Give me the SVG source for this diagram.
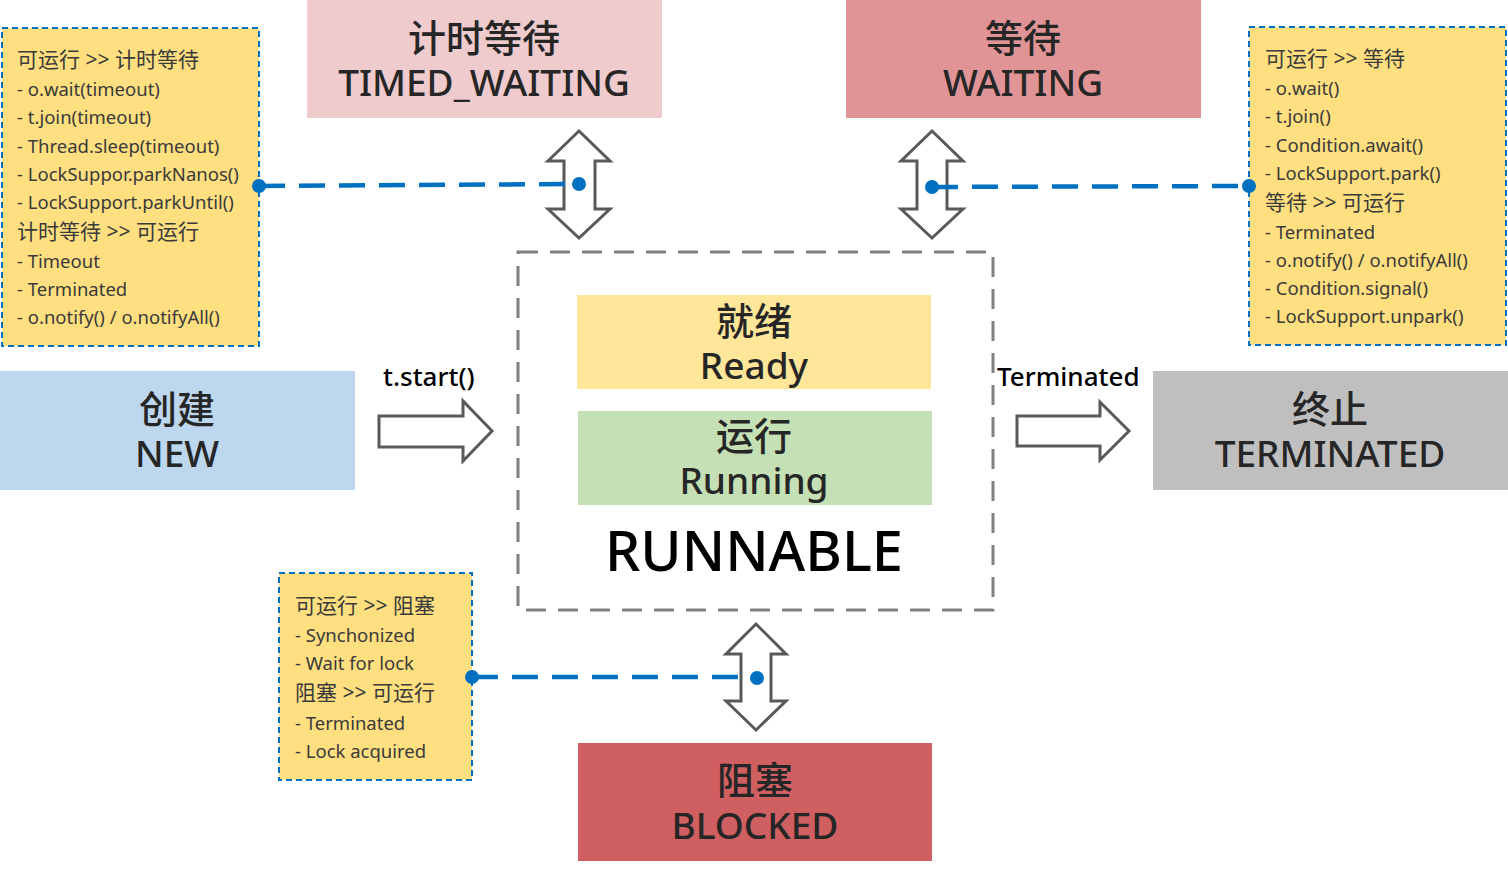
<svg xmlns="http://www.w3.org/2000/svg" width="1508" height="870" viewBox="0 0 1508 870">
<style>
.big{font-family:"Noto Sans","Noto Sans CJK SC",sans-serif;font-size:37px;font-weight:500;fill:#262626;text-anchor:middle}
.bigc{font-size:38px}
.note{font-family:"Noto Sans","Noto Sans CJK SC",sans-serif;font-size:18.5px;fill:#3a3a3a}
.cn{font-size:21px}
.notebox{fill:#ffdf80;stroke:#0070c0;stroke-width:2;stroke-dasharray:6 4}
.arrow{fill:#fff;stroke:#595959;stroke-width:3;stroke-linejoin:miter}
.link{stroke:#0070c0;stroke-width:4.5;stroke-dasharray:26 14;fill:none}
.dot{fill:#0070c0}
.lbl{font-family:"Noto Sans","Noto Sans CJK SC",sans-serif;font-size:26px;font-weight:500;fill:#000}
</style>
<rect width="1508" height="870" fill="#fff"/>
<g id="runnable">
<rect x="518" y="252" width="475" height="358" fill="none" stroke="#808080" stroke-width="3" stroke-dasharray="20 12"/>
<text x="754" y="571" font-family="Noto Sans,sans-serif" font-size="56" font-weight="500" text-anchor="middle" fill="#000">RUNNABLE</text>
</g>
<g id="ready">
<rect x="577" y="295" width="354" height="94" fill="#ffe699"/>
<text class="big bigc" x="754" y="335">就绪</text>
<text class="big" x="754" y="379">Ready</text>
</g>
<g id="running">
<rect x="578" y="411" width="354" height="94" fill="#c5e0b4"/>
<text class="big bigc" x="754" y="450">运行</text>
<text class="big" x="754" y="494">Running</text>
</g>
<g id="timed_waiting">
<rect x="307" y="0" width="355" height="118" fill="#efcbce"/>
<text class="big bigc" x="484" y="52">计时等待</text>
<text class="big" x="484" y="96">TIMED_WAITING</text>
</g>
<g id="waiting">
<rect x="846" y="0" width="355" height="118" fill="#e09496"/>
<text class="big bigc" x="1023" y="52">等待</text>
<text class="big" x="1023" y="96">WAITING</text>
</g>
<g id="new">
<rect x="0" y="371" width="355" height="119" fill="#bdd7ee"/>
<text class="big bigc" x="177" y="423">创建</text>
<text class="big" x="177" y="467">NEW</text>
</g>
<g id="terminated">
<rect x="1153" y="371" width="355" height="119" fill="#bfbfbf"/>
<text class="big bigc" x="1330" y="423">终止</text>
<text class="big" x="1330" y="467">TERMINATED</text>
</g>
<g id="blocked">
<rect x="578" y="743" width="354" height="118" fill="#d05f62"/>
<text class="big bigc" x="755" y="794">阻塞</text>
<text class="big" x="755" y="839">BLOCKED</text>
</g>
<g id="note_timed">
<rect class="notebox" x="2" y="28" width="257" height="318"/>
<text class="note"><tspan class="cn" x="17" y="67">可运行 &gt;&gt; 计时等待</tspan><tspan x="17" y="96">- o.wait(timeout)</tspan><tspan x="17" y="124">- t.join(timeout)</tspan><tspan x="17" y="153">- Thread.sleep(timeout)</tspan><tspan x="17" y="181">- LockSuppor.parkNanos()</tspan><tspan x="17" y="209">- LockSupport.parkUntil()</tspan><tspan class="cn" x="17" y="239">计时等待 &gt;&gt; 可运行</tspan><tspan x="17" y="268">- Timeout</tspan><tspan x="17" y="296">- Terminated</tspan><tspan x="17" y="324">- o.notify() / o.notifyAll()</tspan></text>
</g>
<g id="note_waiting">
<rect class="notebox" x="1249" y="27" width="257" height="318"/>
<text class="note"><tspan class="cn" x="1265" y="66">可运行 &gt;&gt; 等待</tspan><tspan x="1265" y="95">- o.wait()</tspan><tspan x="1265" y="123">- t.join()</tspan><tspan x="1265" y="152">- Condition.await()</tspan><tspan x="1265" y="180">- LockSupport.park()</tspan><tspan class="cn" x="1265" y="210">等待 &gt;&gt; 可运行</tspan><tspan x="1265" y="239">- Terminated</tspan><tspan x="1265" y="267">- o.notify() / o.notifyAll()</tspan><tspan x="1265" y="295">- Condition.signal()</tspan><tspan x="1265" y="323">- LockSupport.unpark()</tspan></text>
</g>
<g id="note_blocked">
<rect class="notebox" x="279" y="573" width="193" height="207"/>
<text class="note"><tspan class="cn" x="295" y="613">可运行 &gt;&gt; 阻塞</tspan><tspan x="295" y="642">- Synchonized</tspan><tspan x="295" y="670">- Wait for lock</tspan><tspan class="cn" x="295" y="700">阻塞 &gt;&gt; 可运行</tspan><tspan x="295" y="730">- Terminated</tspan><tspan x="295" y="758">- Lock acquired</tspan></text>
</g>
<g id="connectors">
<path class="arrow" d="M579,131 L610,161 L595,161 L595,209 L610,209 L579,238 L548,209 L564,209 L564,161 L548,161 Z"/>
<path class="arrow" d="M932,131 L963,161 L947,161 L947,209 L963,209 L932,238 L901,209 L917,209 L917,161 L901,161 Z"/>
<path class="arrow" d="M756,624 L786,654 L771,654 L771,701 L786,701 L756,730 L726,701 L741,701 L741,654 L726,654 Z"/>
<path class="arrow" d="M379,416 L463,416 L463,401 L492,431 L463,461 L463,447 L379,447 Z"/>
<path class="arrow" d="M1017,416 L1100,416 L1100,402 L1129,431 L1100,460 L1100,446 L1017,446 Z"/>
<text class="lbl" x="383" y="386">t.start()</text>
<text class="lbl" x="997" y="386">Terminated</text>
<path class="link" d="M259,186 L579,184"/>
<circle class="dot" cx="259" cy="186" r="7"/>
<circle class="dot" cx="579" cy="184" r="7"/>
<path class="link" d="M932,187 L1249,186"/>
<circle class="dot" cx="932" cy="187" r="7"/>
<circle class="dot" cx="1249" cy="186" r="7"/>
<path class="link" d="M472,677 L757,677"/>
<circle class="dot" cx="472" cy="677" r="7"/>
<circle class="dot" cx="757" cy="678" r="7"/>
</g>
</svg>
